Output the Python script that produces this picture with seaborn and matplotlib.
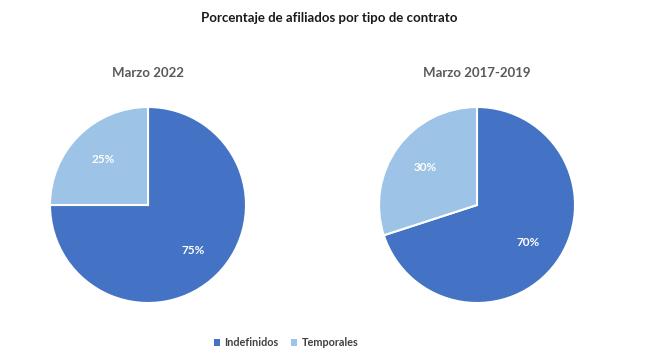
import matplotlib
matplotlib.use("Agg")
import matplotlib.pyplot as plt
from matplotlib.patches import Patch
import seaborn as sns

sns.set_theme(style="white")
plt.rcParams["font.family"] = ["Lato", "DejaVu Sans"]

categories = ["Indefinidos", "Temporales"]
periods = ["Marzo 2022", "Marzo 2017-2019"]
values_2022 = [75, 25]
values_2017_2019 = [70, 30]
colors = ["#4472C4", "#9DC3E6"]

W, H = 650, 363
fig = plt.figure(figsize=(W / 100, H / 100), dpi=100)
fig.patch.set_facecolor("white")

fig.text(329 / W, 1 - 18 / H, "Porcentaje de afiliados por tipo de contrato",
         ha="center", va="center", fontsize=9.5, fontweight="bold",
         color="#1a1a1a")

pie_specs = [
    (148, 205, periods[0], values_2022),
    (477, 205, periods[1], values_2017_2019),
]
radius_px = 98

for cx, cy, period, vals in pie_specs:
    ax = fig.add_axes([(cx - radius_px) / W, 1 - (cy + radius_px) / H,
                       2 * radius_px / W, 2 * radius_px / H])
    wedges, texts, autotexts = ax.pie(
        vals, colors=colors, startangle=90, counterclock=False,
        autopct="%d%%", pctdistance=0.65,
        wedgeprops=dict(edgecolor="white", linewidth=1.5),
        textprops=dict(color="white", fontweight="bold", fontsize=8.5),
    )
    ax.set_xlim(-1.0, 1.0)
    ax.set_ylim(-1.0, 1.0)
    ax.set_aspect("equal")
    ax.axis("off")
    fig.text(cx / W, 1 - 73 / H, period, ha="center", va="center",
             fontsize=9.5, fontweight="bold", color="#595959")

handles = [Patch(facecolor=c, edgecolor="none") for c in colors]
fig.legend(handles, categories, loc="center", bbox_to_anchor=(286 / W, 1 - 343 / H),
           ncol=2, frameon=False, handlelength=0.55, handleheight=0.55,
           handletextpad=0.4, columnspacing=1.2,
           prop=dict(size=7.8, weight="bold"), labelcolor="#404040")

fig.savefig("out.png", dpi=100, facecolor="white")
